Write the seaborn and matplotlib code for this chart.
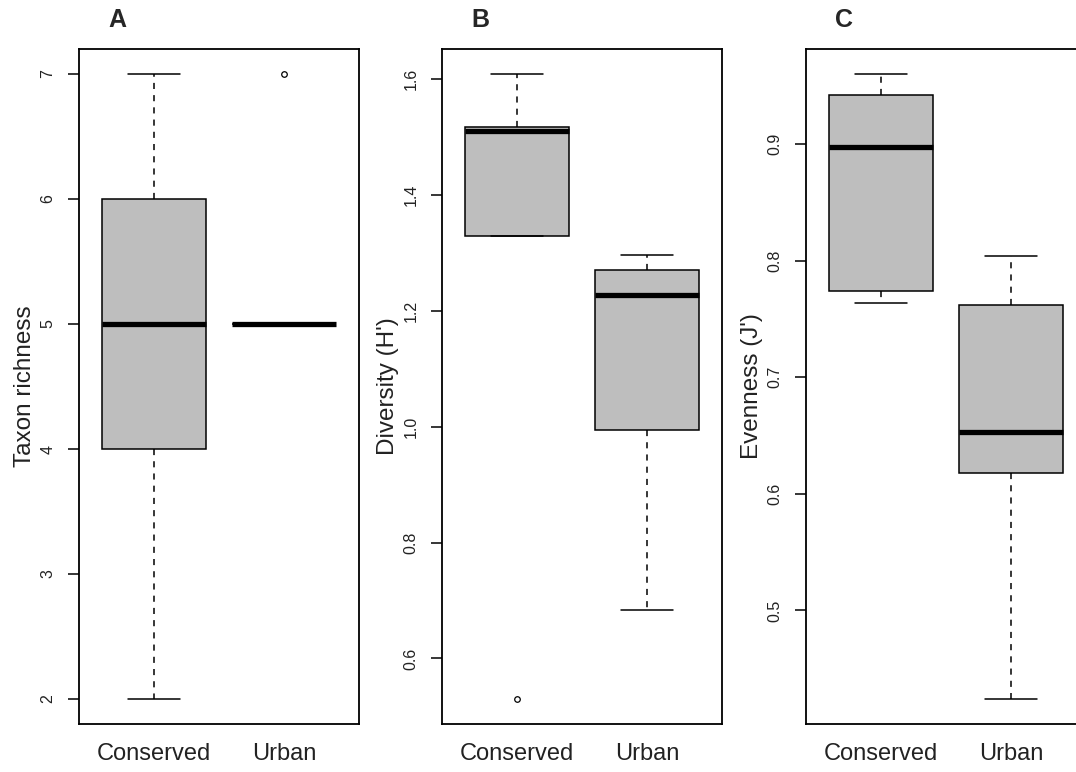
import numpy as np
import pandas as pd
import matplotlib
matplotlib.use("Agg")
import matplotlib.pyplot as plt
import seaborn as sns

groups = ["Conserved", "Urban"]
richness_conserved = [2, 4, 5, 6, 7]
richness_urban = [5, 5, 5, 5, 7]
diversity_conserved = [0.530, 1.330, 1.510, 1.517, 1.609]
diversity_urban = [0.683, 0.994, 1.227, 1.270, 1.296]
evenness_conserved = [0.764, 0.774, 0.897, 0.942, 0.960]
evenness_urban = [0.424, 0.618, 0.653, 0.762, 0.804]

panel_titles = ["A", "B", "C"]
y_labels = ["Taxon richness", "Diversity (H')", "Evenness (J')"]
ticks_a = [2, 3, 4, 5, 6, 7]
ticks_b = [0.6, 0.8, 1.0, 1.2, 1.4, 1.6]
ticks_c = [0.5, 0.6, 0.7, 0.8, 0.9]
tick_labels_a = ["2", "3", "4", "5", "6", "7"]
tick_labels_b = ["0.6", "0.8", "1.0", "1.2", "1.4", "1.6"]
tick_labels_c = ["0.5", "0.6", "0.7", "0.8", "0.9"]

def make_df(cons, urb):
    return pd.DataFrame({
        "group": [groups[0]] * len(cons) + [groups[1]] * len(urb),
        "value": list(cons) + list(urb),
    })

panels = [
    (make_df(richness_conserved, richness_urban), ticks_a, tick_labels_a),
    (make_df(diversity_conserved, diversity_urban), ticks_b, tick_labels_b),
    (make_df(evenness_conserved, evenness_urban), ticks_c, tick_labels_c),
]

sns.set_theme(style="ticks")
plt.rcParams["font.family"] = ["Liberation Sans", "DejaVu Sans"]

W, H = 1076, 772
fig = plt.figure(figsize=(W / 100, H / 100), dpi=100)

ax_lefts = [79, 442, 806]
ax_w, ax_top, ax_bot = 280, 49, 724

for i, (df, ticks, tlabels) in enumerate(panels):
    ax = fig.add_axes([ax_lefts[i] / W, 1 - ax_bot / H, ax_w / W, (ax_bot - ax_top) / H])
    sns.boxplot(
        data=df, x="group", y="value", order=groups, ax=ax,
        color="#BEBEBE", saturation=1, width=0.8, whis=1.5,
        linecolor="black", linewidth=1.1,
        whiskerprops={"linestyle": (0, (4, 4)), "linewidth": 1.1},
        capprops={"linewidth": 1.1},
        medianprops={"linewidth": 3.8, "color": "black"},
        boxprops={"linewidth": 1.1, "edgecolor": "black"},
        flierprops={"marker": "o", "markerfacecolor": "none",
                    "markeredgecolor": "black", "markersize": 4,
                    "markeredgewidth": 0.9},
    )
    vals = df["value"].to_numpy()
    lo, hi = vals.min(), vals.max()
    pad = 0.04 * (hi - lo)
    ax.set_ylim(lo - pad, hi + pad)
    ax.set_xlim(-0.58, 1.58)
    ax.set_yticks(ticks)
    ax.set_yticklabels(tlabels, rotation=90, va="center", fontsize=11.5, color="#222222")
    ax.tick_params(axis="y", length=8, width=1.1, pad=9, color="black")
    ax.tick_params(axis="x", length=0, pad=14, labelsize=17)
    for lab in ax.get_xticklabels():
        lab.set_color("#222222")
    ax.set_xlabel("")
    ax.set_ylabel(y_labels[i], fontsize=17.5, color="#222222")
    ax.yaxis.set_label_coords(-0.155, 0.5)
    for s in ax.spines.values():
        s.set_visible(True)
        s.set_linewidth(1.3)
        s.set_color("black")
    fig.text((ax_lefts[i] + 29) / W, 1 - 20 / H, panel_titles[i],
             fontsize=18, fontweight="bold", ha="left", va="center")

fig.savefig("out.png", dpi=100)
